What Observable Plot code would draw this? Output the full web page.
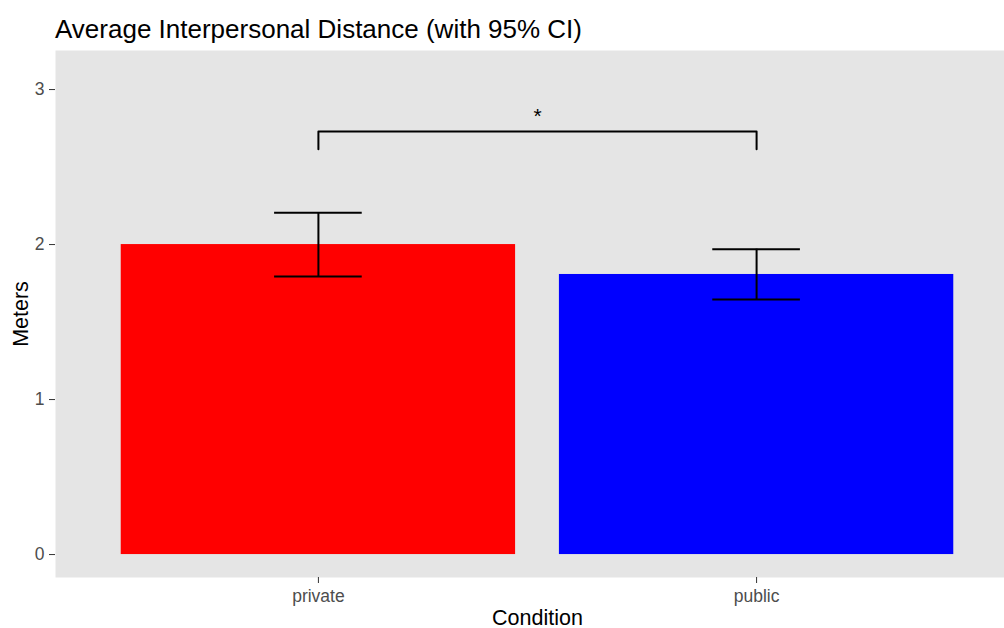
<!DOCTYPE html>
<html><head><meta charset="utf-8">
<script src="https://cdn.jsdelivr.net/npm/d3@7"></script>
<script src="https://cdn.jsdelivr.net/npm/@observablehq/plot@0.6"></script>
<style>
html,body{margin:0;padding:0;background:#fff;overflow:hidden;width:1004px;height:628px}
#title{position:absolute;left:55px;top:15.5px;font-family:"Liberation Sans",Arial,Helvetica,sans-serif;font-size:26px;line-height:26px;color:#000;white-space:nowrap}
#chart{position:absolute;left:0;top:44px}
</style></head><body>
<div id="title">Average Interpersonal Distance (with 95% CI)</div>
<div id="chart"></div>
<script>
// ---- data ----
const categories = ["private", "public"];
const means = [2.0, 1.807];
const ciLower = [1.794, 1.645];
const ciUpper = [2.205, 1.970];
const barColors = ["#ff0000", "#0000ff"];
const yTicks = [0, 1, 2, 3];
const bracketY = 2.73;
const bracketTipY = 2.615;
const sigLabel = "*";
const sigLabelY = 2.786;
const xTitle = "Condition";
const yTitle = "Meters";

const rows = categories.map((c, i) => ({pos: i + 1, category: c, mean: means[i], lo: ciLower[i], hi: ciUpper[i]}));
const bracket = [
  {x: 1, y: bracketTipY}, {x: 1, y: bracketY}, {x: 2, y: bracketY}, {x: 2, y: bracketTipY}
];

const chart = Plot.plot({
  width: 1004,
  height: 584,
  marginLeft: 55,
  marginRight: -15,
  marginTop: 6,
  marginBottom: 51,
  style: {fontFamily: "'Liberation Sans', Arial, Helvetica, sans-serif", background: "white"},
  x: {domain: [0.4, 2.6]},
  y: {domain: [-0.148, 3.252]},
  color: {domain: categories, range: barColors},
  marks: [
    Plot.frame({fill: "#e5e5e5"}),
    Plot.rectY(rows, {x1: d => d.pos - 0.45, x2: d => d.pos + 0.45, y1: 0, y2: "mean", fill: "category"}),
    Plot.ruleX(rows, {x: "pos", y1: "lo", y2: "hi", stroke: "black", strokeWidth: 2}),
    Plot.ruleY(rows, {y: "lo", x1: d => d.pos - 0.1, x2: d => d.pos + 0.1, stroke: "black", strokeWidth: 2}),
    Plot.ruleY(rows, {y: "hi", x1: d => d.pos - 0.1, x2: d => d.pos + 0.1, stroke: "black", strokeWidth: 2}),
    Plot.line(bracket, {x: "x", y: "y", stroke: "black", strokeWidth: 2}),
    Plot.text([sigLabel], {x: 1.5, y: sigLabelY, text: d => d, fontSize: 21, lineAnchor: "bottom", fill: "black"}),
    Plot.axisY({ticks: yTicks, tickFormat: d3.format("d"), tickSize: 6, tickPadding: 5, fontSize: 17.5, stroke: "#333333", fill: "#4d4d4d", label: null}),
    Plot.axisX({ticks: [1, 2], tickFormat: d => categories[d - 1], tickSize: 6, tickPadding: 6, fontSize: 17.5, stroke: "#333333", fill: "#4d4d4d", label: null}),
    Plot.text([xTitle], {text: d => d, frameAnchor: "bottom", dy: 47, lineAnchor: "bottom", textAnchor: "middle", fontSize: 21.5, fill: "black"}),
    Plot.text([yTitle], {text: d => d, frameAnchor: "left", rotate: -90, dx: -28, lineAnchor: "bottom", textAnchor: "middle", fontSize: 21.5, fill: "black"})
  ]
});
document.getElementById("chart").appendChild(chart);
</script>
</body></html>
